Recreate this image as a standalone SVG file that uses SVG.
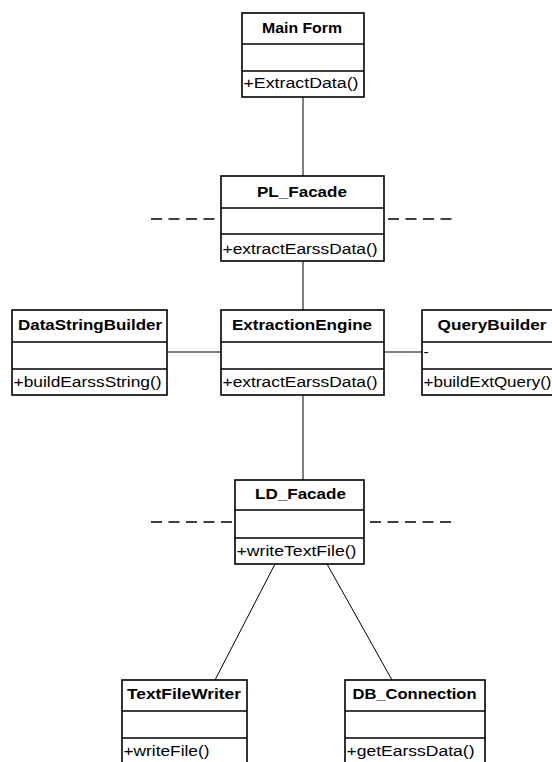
<svg xmlns="http://www.w3.org/2000/svg" width="552" height="762" viewBox="0 0 552 762">
<style>
  .box { fill: #ffffff; stroke: #000000; stroke-width: 1.6; }
  .sep { stroke: #000000; stroke-width: 1.6; fill: none; }
  .name { font-family: "Liberation Sans", Arial, sans-serif; font-weight: bold; font-size: 15px; fill: #000000; text-anchor: middle; }
  .op { font-family: "Liberation Sans", Arial, sans-serif; font-size: 15.5px; fill: #000000; }
  .conn { stroke: #000000; stroke-width: 1; fill: none; }
  .dash { stroke: #000000; stroke-width: 1.5; fill: none; stroke-dasharray: 11 6.5; }
</style>
<rect width="552" height="762" fill="#ffffff"/>
<g id="connectors">
  <line class="conn" x1="303" y1="97" x2="303" y2="176"/>
  <line class="conn" x1="303" y1="261" x2="303" y2="310"/>
  <line class="conn" x1="303" y1="395" x2="303" y2="480"/>
  <line class="conn" x1="167" y1="352" x2="221" y2="352"/>
  <line class="conn" x1="384" y1="352" x2="422" y2="352"/>
  <line class="conn" x1="275" y1="564" x2="215" y2="680"/>
  <line class="conn" x1="327" y1="564" x2="392" y2="680"/>
  <line class="dash" x1="151" y1="219" x2="216" y2="219"/>
  <line class="dash" x1="388" y1="219" x2="456" y2="219"/>
  <line class="dash" x1="151" y1="522" x2="234" y2="522"/>
  <line class="dash" x1="370" y1="522" x2="456" y2="522"/>
</g>
<g id="main-form">
  <rect class="box" x="242" y="13" width="122" height="84"/>
  <line class="sep" x1="242" y1="44" x2="364" y2="44"/>
  <line class="sep" x1="242" y1="71" x2="364" y2="71"/>
  <text class="name" x="302" y="32.5" textLength="80" lengthAdjust="spacingAndGlyphs">Main Form</text>
  <text class="op" x="243.5" y="88" textLength="115" lengthAdjust="spacingAndGlyphs">+ExtractData()</text>
</g>
<g id="pl-facade">
  <rect class="box" x="221" y="176" width="163" height="85"/>
  <line class="sep" x1="221" y1="208" x2="384" y2="208"/>
  <line class="sep" x1="221" y1="234" x2="384" y2="234"/>
  <text class="name" x="302" y="197" textLength="90" lengthAdjust="spacingAndGlyphs">PL_Facade</text>
  <text class="op" x="222.5" y="254" textLength="155" lengthAdjust="spacingAndGlyphs">+extractEarssData()</text>
</g>
<g id="data-string-builder">
  <rect class="box" x="12" y="310" width="155" height="85"/>
  <line class="sep" x1="12" y1="342" x2="167" y2="342"/>
  <line class="sep" x1="12" y1="369" x2="167" y2="369"/>
  <text class="name" x="90" y="330" textLength="144" lengthAdjust="spacingAndGlyphs">DataStringBuilder</text>
  <text class="op" x="13.5" y="386.5" textLength="148" lengthAdjust="spacingAndGlyphs">+buildEarssString()</text>
</g>
<g id="extraction-engine">
  <rect class="box" x="221" y="310" width="163" height="85"/>
  <line class="sep" x1="221" y1="342" x2="384" y2="342"/>
  <line class="sep" x1="221" y1="369" x2="384" y2="369"/>
  <text class="name" x="302" y="330" textLength="140" lengthAdjust="spacingAndGlyphs">ExtractionEngine</text>
  <text class="op" x="222.5" y="386.5" textLength="155" lengthAdjust="spacingAndGlyphs">+extractEarssData()</text>
</g>
<g id="query-builder">
  <rect class="box" x="422" y="310" width="142" height="85"/>
  <line class="sep" x1="422" y1="342" x2="564" y2="342"/>
  <line class="sep" x1="422" y1="369" x2="564" y2="369"/>
  <text class="name" x="492" y="330" textLength="109" lengthAdjust="spacingAndGlyphs">QueryBuilder</text>
  <text class="op" x="423.5" y="357">-</text>
  <text class="op" x="423.5" y="386.5" textLength="128" lengthAdjust="spacingAndGlyphs">+buildExtQuery()</text>
</g>
<g id="ld-facade">
  <rect class="box" x="235" y="480" width="129" height="84"/>
  <line class="sep" x1="235" y1="510" x2="364" y2="510"/>
  <line class="sep" x1="235" y1="538" x2="364" y2="538"/>
  <text class="name" x="300.5" y="499" textLength="91" lengthAdjust="spacingAndGlyphs">LD_Facade</text>
  <text class="op" x="236.5" y="555.5" textLength="120" lengthAdjust="spacingAndGlyphs">+writeTextFile()</text>
</g>
<g id="text-file-writer">
  <rect class="box" x="122" y="680" width="125" height="90"/>
  <line class="sep" x1="122" y1="711" x2="247" y2="711"/>
  <line class="sep" x1="122" y1="738" x2="247" y2="738"/>
  <text class="name" x="184" y="699" textLength="114" lengthAdjust="spacingAndGlyphs">TextFileWriter</text>
  <text class="op" x="123.5" y="755.5" textLength="86" lengthAdjust="spacingAndGlyphs">+writeFile()</text>
</g>
<g id="db-connection">
  <rect class="box" x="345" y="680" width="140" height="90"/>
  <line class="sep" x1="345" y1="711" x2="485" y2="711"/>
  <line class="sep" x1="345" y1="738" x2="485" y2="738"/>
  <text class="name" x="414.5" y="699" textLength="124" lengthAdjust="spacingAndGlyphs">DB_Connection</text>
  <text class="op" x="346.5" y="755.5" textLength="128" lengthAdjust="spacingAndGlyphs">+getEarssData()</text>
</g>
</svg>
